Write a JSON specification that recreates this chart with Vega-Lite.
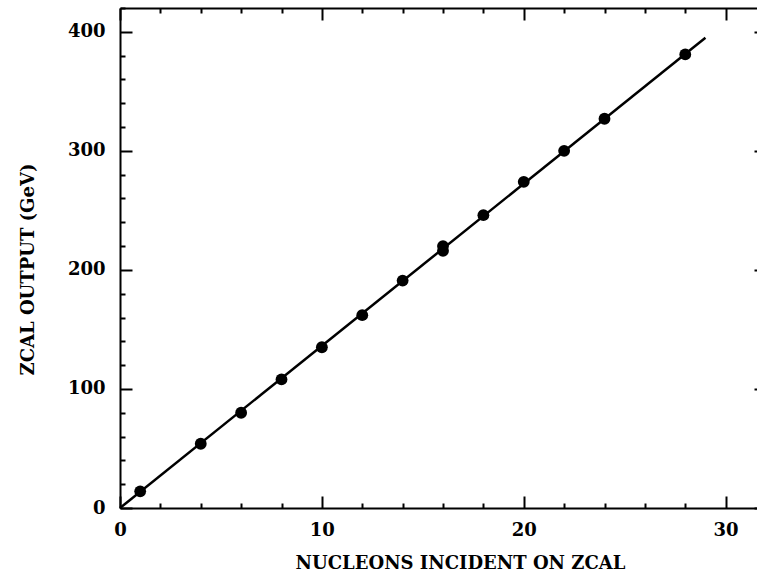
{
  "$schema": "https://vega.github.io/schema/vega-lite/v6.json",
  "width": 646,
  "height": 500,
  "autosize": {"type": "none"},
  "padding": {"left": 120, "top": 8, "right": 0, "bottom": 70},
  "background": "white",
  "config": {
    "view": {"stroke": null},
    "axis": {
      "domainColor": "black",
      "domainWidth": 2,
      "tickColor": "black",
      "tickWidth": 2,
      "tickSize": -12,
      "grid": false,
      "labelFont": "DejaVu Serif",
      "labelFontWeight": "bold",
      "labelFontSize": 18,
      "labelColor": "black",
      "titleFont": "DejaVu Serif",
      "titleFontWeight": "bold",
      "titleFontSize": 18,
      "titleColor": "black"
    }
  },
  "datasets": {
    "points": [
      {"nucleons": 1, "output": 14},
      {"nucleons": 4, "output": 54},
      {"nucleons": 6, "output": 80},
      {"nucleons": 8, "output": 108},
      {"nucleons": 10, "output": 135},
      {"nucleons": 12, "output": 162},
      {"nucleons": 14, "output": 191},
      {"nucleons": 16, "output": 216},
      {"nucleons": 16, "output": 220},
      {"nucleons": 18, "output": 246},
      {"nucleons": 20, "output": 274},
      {"nucleons": 22, "output": 300},
      {"nucleons": 24, "output": 327},
      {"nucleons": 28, "output": 381}
    ],
    "fit": [
      {"nucleons": 0, "output": 0},
      {"nucleons": 29, "output": 395}
    ]
  },
  "layer": [
    {
      "data": {"name": "fit"},
      "mark": {"type": "line", "color": "black", "strokeWidth": 2.5},
      "encoding": {
        "x": {
          "field": "nucleons", "type": "quantitative",
          "scale": {"domain": [0, 32], "nice": false, "zero": false},
          "axis": {
            "orient": "bottom",
            "title": "NUCLEONS INCIDENT ON ZCAL",
            "values": [0, 2, 4, 6, 8, 10, 12, 14, 16, 18, 20, 22, 24, 26, 28, 30, 32],
            "labelExpr": "datum.value % 10 === 0 ? datum.label : ''",
            "tickDash": {"condition": {"test": "datum.value % 10 !== 0", "value": [5, 30]}, "value": []},
            "labelPadding": 25,
            "labelFlush": false,
            "labelOverlap": false,
            "titleX": 340,
            "titleY": 60,
            "titleBaseline": "alphabetic"
          }
        },
        "y": {
          "field": "output", "type": "quantitative",
          "scale": {"domain": [0, 420], "nice": false, "zero": false},
          "axis": {
            "orient": "left",
            "title": "ZCAL OUTPUT (GeV)",
            "values": [0, 20, 40, 60, 80, 100, 120, 140, 160, 180, 200, 220, 240, 260, 280, 300, 320, 340, 360, 380, 400, 420],
            "labelExpr": "datum.value % 100 === 0 ? datum.label : ''",
            "tickDash": {"condition": {"test": "datum.value % 100 !== 0", "value": [5, 30]}, "value": []},
            "labelPadding": 27,
            "labelFlush": false,
            "labelOverlap": false,
            "titleX": -87,
            "titleY": 261,
            "titleBaseline": "alphabetic"
          }
        }
      }
    },
    {
      "data": {"name": "points"},
      "mark": {"type": "circle", "color": "black", "opacity": 1, "size": 140},
      "encoding": {
        "x": {
          "field": "nucleons", "type": "quantitative",
          "scale": {"domain": [0, 32], "nice": false, "zero": false},
          "axis": {
            "orient": "top",
            "title": null,
            "values": [0, 2, 4, 6, 8, 10, 12, 14, 16, 18, 20, 22, 24, 26, 28, 30, 32],
            "labels": false,
            "tickDash": {"condition": {"test": "datum.value % 10 !== 0", "value": [5, 30]}, "value": []}
          }
        },
        "y": {
          "field": "output", "type": "quantitative",
          "scale": {"domain": [0, 420], "nice": false, "zero": false},
          "axis": {
            "orient": "right",
            "title": null,
            "domain": false,
            "values": [0, 20, 40, 60, 80, 100, 120, 140, 160, 180, 200, 220, 240, 260, 280, 300, 320, 340, 360, 380, 400, 420],
            "labels": false,
            "tickDash": {"condition": {"test": "datum.value % 100 !== 0", "value": [5, 30]}, "value": []}
          }
        }
      }
    }
  ],
  "resolve": {"scale": {"x": "independent", "y": "independent"}}
}
